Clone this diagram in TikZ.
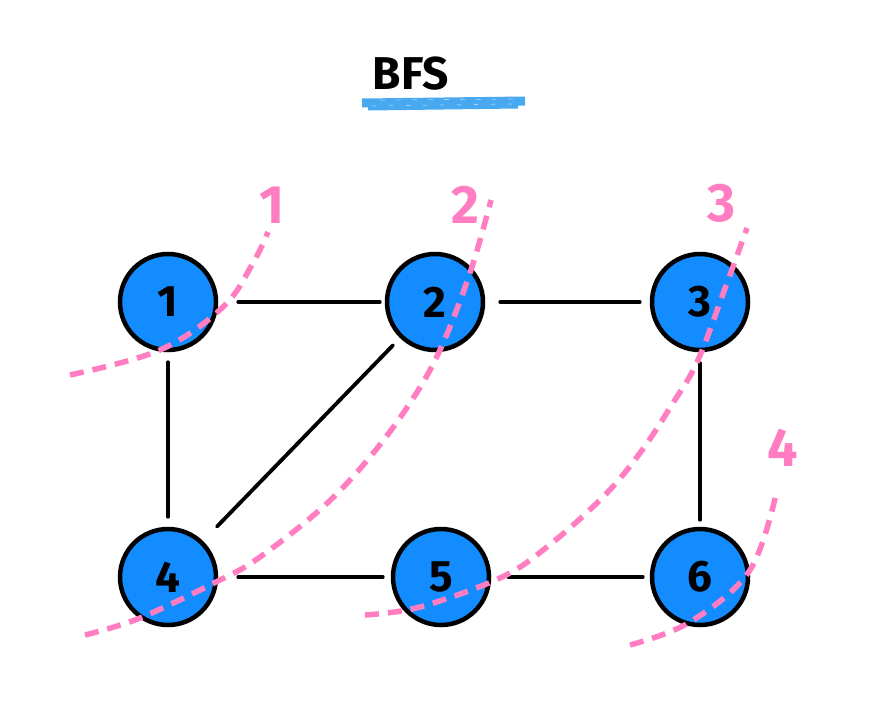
\documentclass[tikz,border=0pt]{standalone}
\usepackage{fontspec}
\setmainfont{Fira Sans}
\usetikzlibrary{calc}
\definecolor{nodeblue}{RGB}{18,140,255}
\definecolor{brushblue}{RGB}{72,168,240}
\definecolor{cutpink}{RGB}{255,125,192}
\tikzset{
  vert/.style={circle, draw=black, line width=4.5pt, fill=nodeblue, minimum size=96pt, inner sep=0pt,
    font=\fontsize{44}{44}\selectfont\bfseries},
  edge/.style={draw=black, line width=3.8pt, line cap=round},
  cut/.style={draw=cutpink, line width=5.5pt, dash pattern=on 14pt off 9pt},
  cutlabel/.style={text=cutpink, font=\fontsize{54}{54}\selectfont\bfseries},
}
\begin{document}
\begin{tikzpicture}[x=1pt,y=-1pt]
\useasboundingbox[fill=white] (0,0) rectangle (880,702);
% title
\node[font=\fontsize{46}{46}\selectfont\bfseries] (title) at (411,74) {BFS};
\draw[brushblue, line width=9pt] (362,103) -- (525,101);
\draw[brushblue, line width=5pt] (368,108) -- (518,106);
\draw[white, line width=0.7pt, opacity=0.5, dash pattern=on 5pt off 11pt] (380,100) -- (515,99);
\draw[white, line width=0.7pt, opacity=0.5, dash pattern=on 4pt off 13pt] (372,106) -- (512,104);
% nodes
\node[vert] (n1) at (168,302) {1};
\node[vert] (n2) at (435,302) {2};
\node[vert] (n3) at (700,302) {3};
\node[vert] (n4) at (168,577) {4};
\node[vert] (n5) at (441,577) {5};
\node[vert] (n6) at (700,577) {6};
% edges
\draw[edge, shorten <=20pt, shorten >=5pt] (n1) -- (n2);
\draw[edge, shorten <=15pt, shorten >=10pt] (n2) -- (n3);
\draw[edge, shorten <=10pt, shorten >=10pt] (n1) -- (n4);
\draw[edge, shorten <=11pt, shorten >=7pt] (n3) -- (n6);
\draw[edge, shorten <=20pt, shorten >=8pt] (n4) -- (n5);
\draw[edge, shorten <=17pt, shorten >=7pt] (n5) -- (n6);
\draw[edge, shorten <=10pt, shorten >=20pt] (n2) -- (n4);
% cut lines
\draw[cut] plot[smooth, tension=0.6] coordinates {(70,375) (160,350) (223,307) (253,263) (268,232)};
\draw[cut] plot[smooth, tension=0.6] coordinates {(85,635) (140,618) (220,580) (260,557) (323,507) (370,457) (410,403) (440,350) (470,273) (491,200)};
\draw[cut] plot[smooth, tension=0.6] coordinates {(365,615) (420,607) (500,578) (547,547) (603,497) (640,453) (673,403) (698,360) (727,283) (747,228)};
\draw[cut] plot[smooth, tension=0.6] coordinates {(630,645) (690,622) (750,570) (777,490)};
% labels
\node[cutlabel] (l1) at (272,205) {1};
\node[cutlabel] (l2) at (465,205) {2};
\node[cutlabel] (l3) at (722,203) {3};
\node[cutlabel] (l4) at (783,448) {4};
\end{tikzpicture}
\end{document}
